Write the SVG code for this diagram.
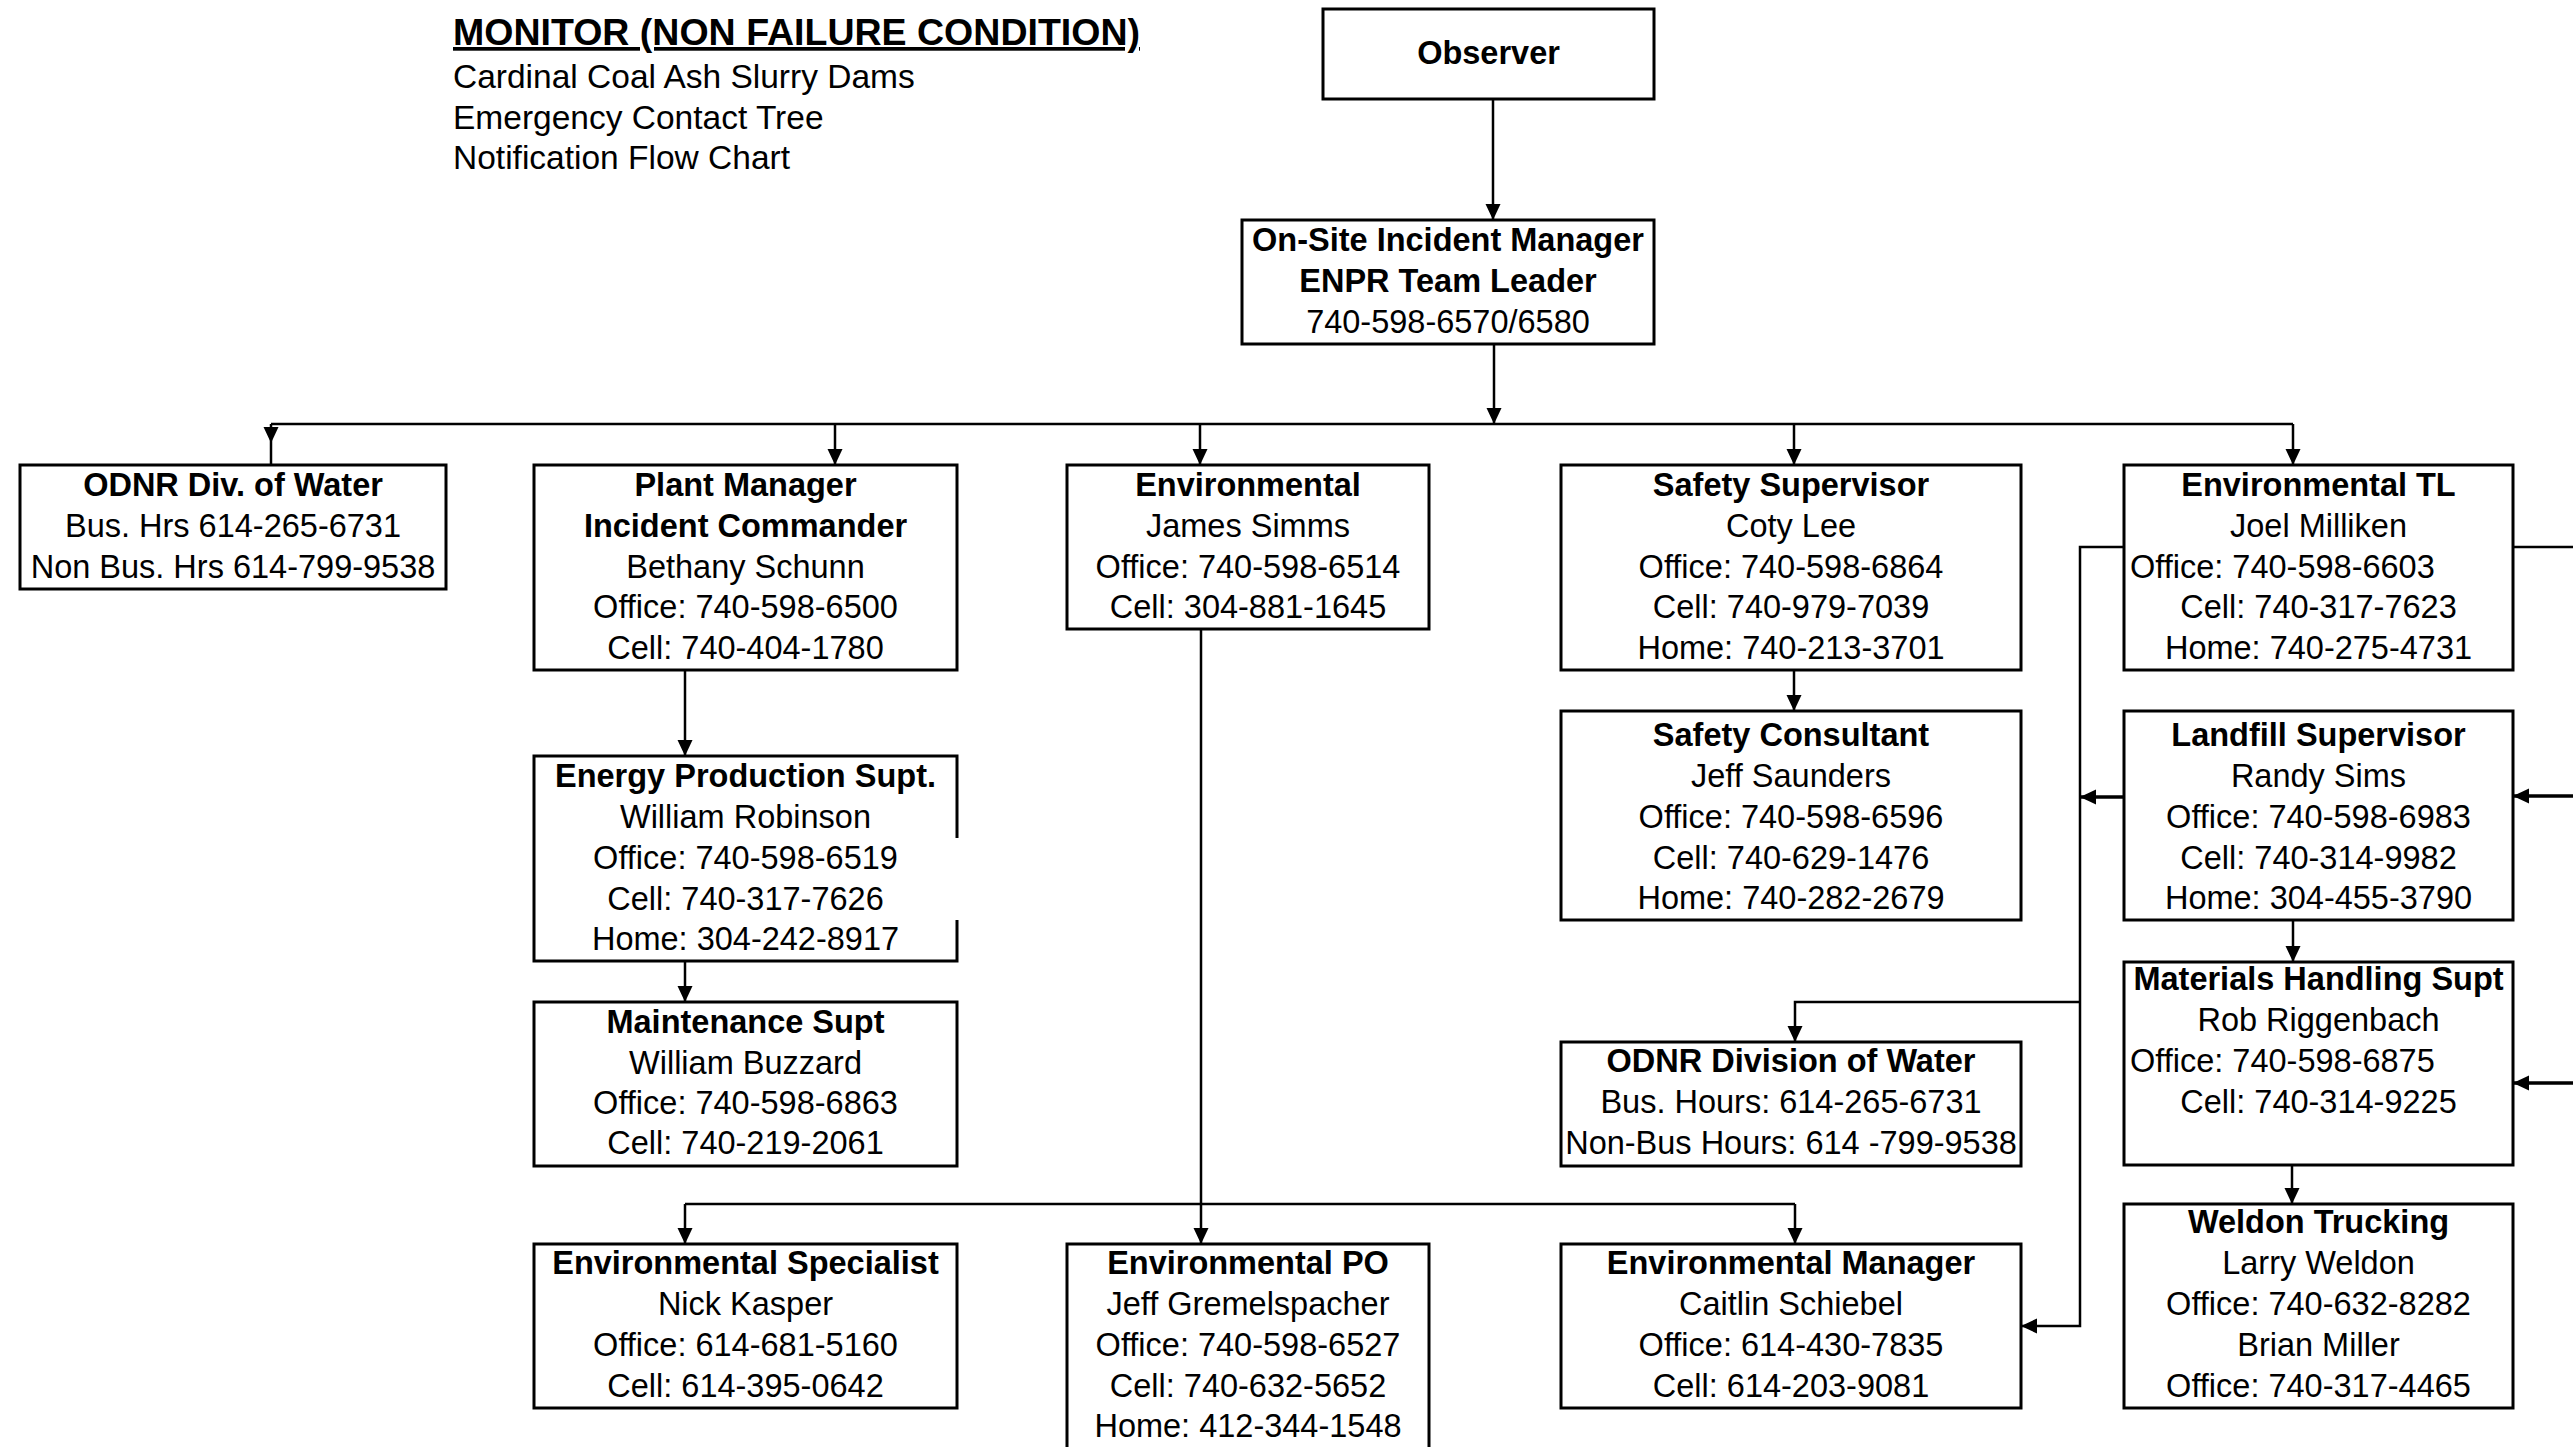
<svg xmlns="http://www.w3.org/2000/svg" width="2573" height="1447" viewBox="0 0 2573 1447">
<style>
text{font-family:"Liberation Sans",Arial,sans-serif;font-size:32.5px;fill:#000;text-anchor:middle}
.b{font-weight:bold}
.s{text-anchor:start}
.box{fill:#fff;stroke:#000;stroke-width:3}
.c{fill:none;stroke:#000;stroke-width:2.5}
.t{stroke-width:3.5}
</style>
<defs>
<marker id="ar" markerUnits="userSpaceOnUse" markerWidth="17" markerHeight="16" refX="16" refY="7.5" orient="auto">
<path d="M0,0 L16,7.5 L0,15 z" fill="#000"/>
</marker>
</defs>
<rect width="2573" height="1447" fill="#fff"/>

<g id="header">
<text class="b s" x="453" y="45" text-decoration="underline" style="font-size:37px" textLength="687" lengthAdjust="spacingAndGlyphs">MONITOR (NON FAILURE CONDITION)</text>
<text class="s" x="453" y="88" style="font-size:33.5px">Cardinal Coal Ash Slurry Dams</text>
<text class="s" x="453" y="129" style="font-size:33.5px">Emergency Contact Tree</text>
<text class="s" x="453" y="169" style="font-size:33.5px">Notification Flow Chart</text>
</g>

<g id="connectors">
<path class="c" d="M1493,99 V220" marker-end="url(#ar)"/>
<path class="c" d="M1494,344 V424" marker-end="url(#ar)"/>
<path class="c" d="M271,424 H2293"/>
<path class="c" d="M271,424 V443" marker-end="url(#ar)"/>
<path class="c" d="M271,443 V465"/>
<path class="c" d="M835,424 V465" marker-end="url(#ar)"/>
<path class="c" d="M1200,424 V465" marker-end="url(#ar)"/>
<path class="c" d="M1794,424 V465" marker-end="url(#ar)"/>
<path class="c" d="M2293,424 V465" marker-end="url(#ar)"/>
<path class="c" d="M685,670 V756" marker-end="url(#ar)"/>
<path class="c" d="M685,961 V1002" marker-end="url(#ar)"/>
<path class="c" d="M1201,629 V1244" marker-end="url(#ar)"/>
<path class="c" d="M685,1204 H1795"/>
<path class="c" d="M685,1204 V1244" marker-end="url(#ar)"/>
<path class="c" d="M1795,1204 V1244" marker-end="url(#ar)"/>
<path class="c" d="M1794,670 V711" marker-end="url(#ar)"/>
<path class="c" d="M2124,547 H2080 V1326 H2021" marker-end="url(#ar)"/>
<path class="c t" d="M2124,797 H2080" marker-end="url(#ar)"/>
<path class="c" d="M2080,1002 H1795 V1042" marker-end="url(#ar)"/>
<path class="c" d="M2293,920 V962" marker-end="url(#ar)"/>
<path class="c" d="M2292,1165 V1204" marker-end="url(#ar)"/>
<path class="c" d="M2513,547 H2573"/>
<path class="c t" d="M2573,796 H2513" marker-end="url(#ar)"/>
<path class="c t" d="M2573,1083 H2513" marker-end="url(#ar)"/>
</g>

<g id="observer">
<rect class="box" x="1323" y="9" width="331" height="90"/>
<text class="b" x="1488.5" y="64">Observer</text>
</g>

<g id="onsite">
<rect class="box" x="1242" y="220" width="412" height="124"/>
<text class="b" x="1448" y="251">On-Site Incident Manager</text>
<text class="b" x="1448" y="292">ENPR Team Leader</text>
<text x="1448" y="333">740-598-6570/6580</text>
</g>

<g id="odnr1">
<rect class="box" x="20" y="465" width="426" height="124"/>
<text class="b" x="233" y="496">ODNR Div. of Water</text>
<text x="233" y="536.5">Bus. Hrs 614-265-6731</text>
<text x="233" y="577.5">Non Bus. Hrs 614-799-9538</text>
</g>

<g id="plant">
<rect class="box" x="534" y="465" width="423" height="205"/>
<text class="b" x="745.5" y="496">Plant Manager</text>
<text class="b" x="745.5" y="536.5">Incident Commander</text>
<text x="745.5" y="577.5">Bethany Schunn</text>
<text x="745.5" y="618">Office: 740-598-6500</text>
<text x="745.5" y="659">Cell: 740-404-1780</text>
</g>

<g id="environmental">
<rect class="box" x="1067" y="465" width="362" height="164"/>
<text class="b" x="1248" y="496">Environmental</text>
<text x="1248" y="536.5">James Simms</text>
<text x="1248" y="577.5">Office: 740-598-6514</text>
<text x="1248" y="618">Cell: 304-881-1645</text>
</g>

<g id="safetysup">
<rect class="box" x="1561" y="465" width="460" height="205"/>
<text class="b" x="1791" y="496">Safety Supervisor</text>
<text x="1791" y="536.5">Coty Lee</text>
<text x="1791" y="577.5">Office: 740-598-6864</text>
<text x="1791" y="618">Cell: 740-979-7039</text>
<text x="1791" y="659">Home: 740-213-3701</text>
</g>

<g id="envtl">
<rect class="box" x="2124" y="465" width="389" height="205"/>
<text class="b" x="2318.5" y="496">Environmental TL</text>
<text x="2318.5" y="536.5">Joel Milliken</text>
<text class="s" x="2130" y="577.5">Office: 740-598-6603</text>
<text x="2318.5" y="618">Cell: 740-317-7623</text>
<text x="2318.5" y="659">Home: 740-275-4731</text>
</g>

<g id="energy">
<rect x="534" y="756" width="423" height="205" fill="#fff"/>
<path d="M957,838 V756 H534 V961 H957 V920" fill="none" stroke="#000" stroke-width="3"/>
<text class="b" x="745.5" y="787">Energy Production Supt.</text>
<text x="745.5" y="828">William Robinson</text>
<text x="745.5" y="869">Office: 740-598-6519</text>
<text x="745.5" y="910">Cell: 740-317-7626</text>
<text x="745.5" y="950">Home: 304-242-8917</text>
</g>

<g id="safetycons">
<rect class="box" x="1561" y="711" width="460" height="209"/>
<text class="b" x="1791" y="746">Safety Consultant</text>
<text x="1791" y="787">Jeff Saunders</text>
<text x="1791" y="828">Office: 740-598-6596</text>
<text x="1791" y="869">Cell: 740-629-1476</text>
<text x="1791" y="909">Home: 740-282-2679</text>
</g>

<g id="landfill">
<rect class="box" x="2124" y="711" width="389" height="209"/>
<text class="b" x="2318.5" y="746">Landfill Supervisor</text>
<text x="2318.5" y="787">Randy Sims</text>
<text x="2318.5" y="828">Office: 740-598-6983</text>
<text x="2318.5" y="869">Cell: 740-314-9982</text>
<text x="2318.5" y="909">Home: 304-455-3790</text>
</g>

<g id="maint">
<rect class="box" x="534" y="1002" width="423" height="164"/>
<text class="b" x="745.5" y="1033">Maintenance Supt</text>
<text x="745.5" y="1074">William Buzzard</text>
<text x="745.5" y="1114">Office: 740-598-6863</text>
<text x="745.5" y="1154">Cell: 740-219-2061</text>
</g>

<g id="odnr2">
<rect class="box" x="1561" y="1042" width="460" height="124"/>
<text class="b" x="1791" y="1072">ODNR Division of Water</text>
<text x="1791" y="1113">Bus. Hours: 614-265-6731</text>
<text x="1791" y="1154">Non-Bus Hours: 614 -799-9538</text>
</g>

<g id="materials">
<rect class="box" x="2124" y="962" width="389" height="203"/>
<text class="b" x="2318.5" y="990">Materials Handling Supt</text>
<text x="2318.5" y="1031">Rob Riggenbach</text>
<text class="s" x="2130" y="1072">Office: 740-598-6875</text>
<text x="2318.5" y="1113">Cell: 740-314-9225</text>
</g>

<g id="envspec">
<rect class="box" x="534" y="1244" width="423" height="164"/>
<text class="b" x="745.5" y="1274">Environmental Specialist</text>
<text x="745.5" y="1315">Nick Kasper</text>
<text x="745.5" y="1356">Office: 614-681-5160</text>
<text x="745.5" y="1397">Cell: 614-395-0642</text>
</g>

<g id="envpo">
<rect class="box" x="1067" y="1244" width="362" height="230"/>
<text class="b" x="1248" y="1274">Environmental PO</text>
<text x="1248" y="1315">Jeff Gremelspacher</text>
<text x="1248" y="1356">Office: 740-598-6527</text>
<text x="1248" y="1397">Cell: 740-632-5652</text>
<text x="1248" y="1437">Home: 412-344-1548</text>
</g>

<g id="envmgr">
<rect class="box" x="1561" y="1244" width="460" height="164"/>
<text class="b" x="1791" y="1274">Environmental Manager</text>
<text x="1791" y="1315">Caitlin Schiebel</text>
<text x="1791" y="1356">Office: 614-430-7835</text>
<text x="1791" y="1397">Cell: 614-203-9081</text>
</g>

<g id="weldon">
<rect class="box" x="2124" y="1204" width="389" height="204"/>
<text class="b" x="2318.5" y="1233">Weldon Trucking</text>
<text x="2318.5" y="1274">Larry Weldon</text>
<text x="2318.5" y="1315">Office: 740-632-8282</text>
<text x="2318.5" y="1356">Brian Miller</text>
<text x="2318.5" y="1397">Office: 740-317-4465</text>
</g>
</svg>
